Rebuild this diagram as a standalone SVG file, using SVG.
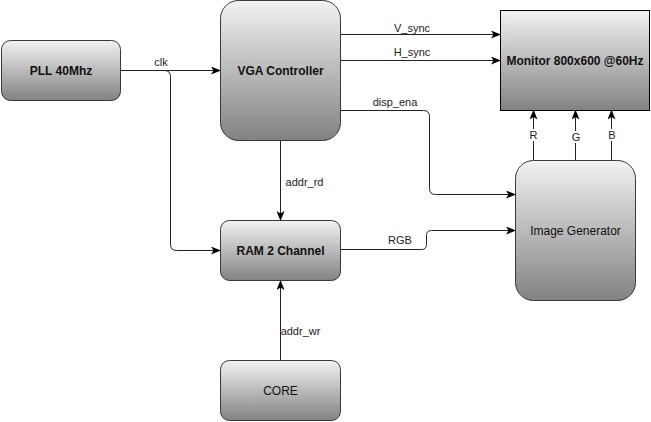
<svg xmlns="http://www.w3.org/2000/svg" width="651" height="422" viewBox="0 0 651 422">
<defs>
  <linearGradient id="g" x1="0" y1="0" x2="0" y2="1">
    <stop offset="0" stop-color="#f2f2f2"/>
    <stop offset="1" stop-color="#828282"/>
  </linearGradient>
  <marker id="arr" viewBox="0 0 10 8" refX="9" refY="4" markerWidth="10" markerHeight="8" markerUnits="userSpaceOnUse" orient="auto">
    <path d="M0,0 L10,4 L0,8 L2.5,4 Z" fill="#000"/>
  </marker>
  <style>
    .node { fill: url(#g); stroke: #36393d; stroke-width: 1; }
    .mon { fill: url(#g); stroke: #000; stroke-width: 1; }
    .nl { font-family: "Liberation Sans", Arial, sans-serif; font-size: 12px; fill: #111; text-anchor: middle; }
    .b { font-weight: bold; }
    .edge { fill: none; stroke: #222; stroke-width: 1; }
    .arrow { marker-end: url(#arr); }
    .el { font-family: "Liberation Sans", Arial, sans-serif; font-size: 11px; fill: #222; text-anchor: middle; }
    .bg { fill: #fff; }
  </style>
</defs>

<g id="connectors">
  <path class="edge arrow" d="M120.5,70.5 L220,70.5"/>
  <path class="edge arrow" d="M160,70.5 L164.5,70.5 Q170.5,70.5 170.5,76.5 L170.5,244.5 Q170.5,250.5 176.5,250.5 L220,250.5"/>
  <path class="edge arrow" d="M340.5,34.5 L500,34.5"/>
  <path class="edge arrow" d="M340.5,60.5 L500,60.5"/>
  <path class="edge arrow" d="M340.5,110.5 L423.5,110.5 Q429.5,110.5 429.5,116.5 L429.5,188.5 Q429.5,194.5 435.5,194.5 L515,194.5"/>
  <path class="edge arrow" d="M280.5,140.5 L280.5,220"/>
  <path class="edge arrow" d="M340.5,249.5 L421.5,249.5 Q426.5,249.5 426.5,244.5 L426.5,235.5 Q426.5,230.5 431.5,230.5 L515,230.5"/>
  <path class="edge arrow" d="M280.5,360 L280.5,281"/>
  <path class="edge arrow" d="M533.5,160 L533.5,110.5"/>
  <path class="edge arrow" d="M575.5,160 L575.5,110.5"/>
  <path class="edge arrow" d="M611.5,160 L611.5,110.5"/>

  <text class="el" x="161" y="65.5">clk</text>
  <text class="el" x="412" y="31.5">V_sync</text>
  <text class="el" x="412" y="56">H_sync</text>
  <text class="el" x="395" y="105.5">disp_ena</text>
  <text class="el" x="304.5" y="186">addr_rd</text>
  <text class="el" x="400" y="244">RGB</text>
  <text class="el" x="300.5" y="335">addr_wr</text>
  <rect class="bg" x="529" y="129" width="9" height="12"/>
  <text class="el" x="533.5" y="139">R</text>
  <rect class="bg" x="571" y="131" width="10" height="12"/>
  <text class="el" x="576" y="141">G</text>
  <rect class="bg" x="607" y="129" width="9" height="12"/>
  <text class="el" x="612" y="139">B</text>
</g>

<g id="pll">
  <rect class="node" x="1.5" y="40.5" width="119" height="60" rx="9" ry="9"/>
  <text class="nl b" x="61" y="74.5">PLL 40Mhz</text>
</g>
<g id="vga">
  <rect class="node" x="220.5" y="0.5" width="120" height="140" rx="18" ry="18"/>
  <text class="nl b" x="280.5" y="74.5">VGA Controller</text>
</g>
<g id="monitor">
  <rect class="mon" x="500.5" y="10.5" width="149" height="100"/>
  <text class="nl b" x="575" y="64.5">Monitor 800x600 @60Hz</text>
</g>
<g id="ram">
  <rect class="node" x="220.5" y="220.5" width="120" height="60" rx="9" ry="9"/>
  <text class="nl b" x="280.5" y="254.5">RAM 2 Channel</text>
</g>
<g id="imggen">
  <rect class="node" x="515.5" y="160.5" width="120" height="140" rx="18" ry="18"/>
  <text class="nl" x="575.5" y="234.5">Image Generator</text>
</g>
<g id="core">
  <rect class="node" x="220.5" y="360.5" width="120" height="60" rx="9" ry="9"/>
  <text class="nl" x="280.5" y="394.5">CORE</text>
</g>
</svg>
